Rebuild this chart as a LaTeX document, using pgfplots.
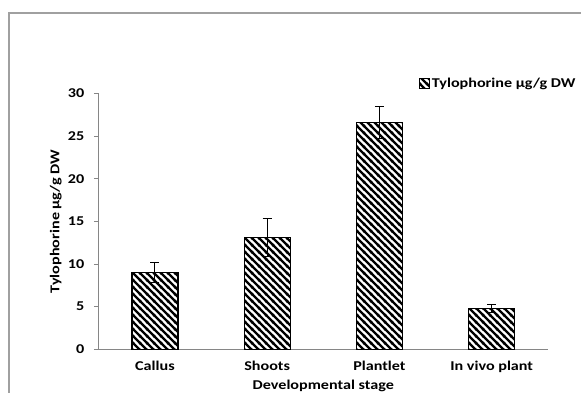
\documentclass[border=0pt]{standalone}
\usepackage{pgfplots}
\pgfplotsset{compat=1.18}
\usepackage{fontspec}
\setmainfont{Carlito}[FakeStretch=1.2]
\usetikzlibrary{patterns}

\definecolor{axisgray}{RGB}{134,134,134}
\definecolor{framegray}{RGB}{160,160,160}

% backslash-direction hatch with wide strokes
\pgfdeclarepatternformonly{widenwlines}{\pgfpoint{-1bp}{-1bp}}{\pgfpoint{8bp}{8bp}}{\pgfpoint{7bp}{7bp}}{%
  \pgfsetlinewidth{2.4bp}%
  \pgfpathmoveto{\pgfpoint{-0.5bp}{7.5bp}}\pgfpathlineto{\pgfpoint{7.5bp}{-0.5bp}}%
  \pgfpathmoveto{\pgfpoint{-1bp}{1bp}}\pgfpathlineto{\pgfpoint{1bp}{-1bp}}%
  \pgfpathmoveto{\pgfpoint{6bp}{8bp}}\pgfpathlineto{\pgfpoint{8bp}{6bp}}%
  \pgfusepath{stroke}}

\tikzset{hatch/.style={pattern=widenwlines,pattern color=black}}

\begin{document}
\begin{tikzpicture}[x=1bp,y=1bp,font=\fontsize{13.5}{16}\selectfont\bfseries]
  \path[use as bounding box] (0,0) rectangle (581,392);
  % outer chart frame
  \draw[framegray,line width=1.2bp] (9,-5) -- (9,379) -- (590,379);

  \begin{axis}[
    at={(88,50)}, anchor=south west,
    scale only axis,
    width=449bp, height=256bp,
    xmin=0.5, xmax=4.5,
    ymin=0, ymax=30,
    axis lines=left,
    axis line style={axisgray,line width=0.9bp,-},
    ytick={0,5,...,30},
    xtick={1,2,3,4},
    xticklabels={Callus,Shoots,Plantlet,In vivo plant},
    major x tick style={draw=none},
    extra x ticks={0.5,1.5,2.5,3.5,4.5},
    extra x tick labels={},
    extra x tick style={major tick length=5bp, tick style={axisgray,line width=0.9bp}},
    tick align=outside,
    major tick length=5bp,
    y tick style={axisgray,line width=0.9bp},
    /pgf/number format/assume math mode=true,
    ticklabel style={black},
    yticklabel style={xshift=-6bp},
    xticklabel style={yshift=-3bp},
    xlabel={Developmental stage},
    xlabel style={at={(axis description cs:0.5,0)}, anchor=center, yshift=-37bp},
    legend style={at={(axis description cs:0.713,1.04)}, anchor=west, draw=none, fill=none,
      inner sep=0pt, legend cell align=left},
    legend image code/.code={\draw[hatch,draw=black,line width=0.8bp] (0bp,-5bp) rectangle (10bp,5bp);},
    clip=false,
  ]
    \addplot[ybar, bar width=46bp, draw=black, line width=1.2bp, hatch,
      error bars/.cd, y dir=both, y explicit,
      error bar style={black,line width=1bp},
      error mark options={rotate=90,mark size=4.5bp,line width=1bp}]
      coordinates {
        (1,9.0)  +- (0,1.2)
        (2,13.1) +- (0,2.2)
        (3,26.6) +- (0,1.9)
        (4,4.8)  +- (0,0.5)
      };
    \addlegendentry{Tylophorine µg/g DW}
    % y-axis title
    \node[rotate=90, anchor=center] at (axis description cs:-0.096,0.5) {Tylophorine µg/g DW};
  \end{axis}
\end{tikzpicture}
\end{document}
